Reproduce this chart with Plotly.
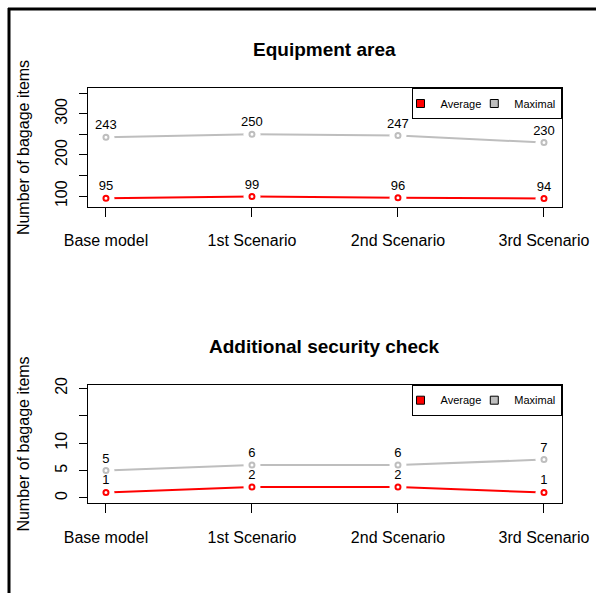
import plotly.graph_objects as go

categories = ["Base model", "1st Scenario", "2nd Scenario", "3rd Scenario"]
x_pos = [1, 2, 3, 4]

equip_average = [95, 99, 96, 94]
equip_maximal = [243, 250, 247, 230]

security_average = [1, 2, 2, 1]
security_maximal = [5, 6, 6, 7]

titles = ["Equipment area", "Additional security check"]
y_title = "Number of bagage items"

y1_ticks = [100, 150, 200, 250, 300, 350]
y1_ticktext = ["100", "", "200", "", "300", ""]
y2_ticks = [0, 5, 10, 15, 20]
y2_ticktext = ["0", "5", "10", "", "20"]

RED = "#FF0000"
GREY = "#BEBEBE"
FONT = "Liberation Sans, Arial, sans-serif"

W, H = 596, 593

def px_x(p):
    return p / W

def px_y(p):
    return 1 - p / H

fig = go.Figure()

def add_series(xa, ya, vals, color):
    # line
    fig.add_trace(go.Scatter(x=x_pos, y=vals, mode="lines", line=dict(color=color, width=2),
                             xaxis=xa, yaxis=ya, showlegend=False, hoverinfo="skip"))
    # white gap around points (type = "b")
    fig.add_trace(go.Scatter(x=x_pos, y=vals, mode="markers",
                             marker=dict(color="white", size=17, line=dict(width=0)),
                             xaxis=xa, yaxis=ya, showlegend=False, hoverinfo="skip"))
    # open circle
    fig.add_trace(go.Scatter(x=x_pos, y=vals, mode="markers",
                             marker=dict(symbol="circle-open", color=color, size=5, line=dict(width=2, color=color)),
                             xaxis=xa, yaxis=ya, showlegend=False, hoverinfo="skip"))

def add_labels(xa, ya, vals):
    fig.add_trace(go.Scatter(x=x_pos, y=vals, mode="markers+text", text=[str(v) for v in vals],
                             textposition="top center",
                             marker=dict(size=6, color="rgba(0,0,0,0)"),
                             textfont=dict(family=FONT, size=13, color="black"),
                             xaxis=xa, yaxis=ya, showlegend=False, hoverinfo="skip"))

add_series("x", "y", equip_average, RED)
add_series("x", "y", equip_maximal, GREY)
add_labels("x", "y", equip_average)
add_labels("x", "y", equip_maximal)

add_series("x2", "y2", security_average, RED)
add_series("x2", "y2", security_maximal, GREY)
add_labels("x2", "y2", security_average)
add_labels("x2", "y2", security_maximal)

# legend entries
for lg in ["legend", "legend2"]:
    for name, col in [("Average", RED), ("Maximal", GREY)]:
        fig.add_trace(go.Scatter(x=[None], y=[None], mode="markers", name=name,
                                 marker=dict(symbol="square", size=8, color=col, line=dict(color="black", width=1)),
                                 legend=lg, showlegend=True,
                                 xaxis="x" if lg == "legend" else "x2",
                                 yaxis="y" if lg == "legend" else "y2"))

x_dom = [px_x(88), px_x(561.5)]
y1_dom = [px_y(207), px_y(88)]
y2_dom = [px_y(503.3), px_y(384.7)]

xaxis_common = dict(range=[0.877, 4.12], tickvals=x_pos, ticktext=categories,
                    ticks="outside", ticklen=9, tickwidth=1, tickcolor="black",
                    showline=True, mirror=True, linecolor="black", linewidth=1,
                    showgrid=False, zeroline=False, domain=x_dom,
                    tickfont=dict(family=FONT, size=16, color="black"),
                    ticklabelstandoff=10, automargin=False, fixedrange=True)

yaxis_common = dict(ticks="outside", ticklen=8, tickwidth=1, tickcolor="black",
                    showline=True, mirror=True, linecolor="black", linewidth=1,
                    showgrid=False, zeroline=False, tickangle=-90,
                    tickfont=dict(family=FONT, size=16, color="black"),
                    ticklabelstandoff=6, automargin=False, fixedrange=True,
                    title=dict(text=y_title, font=dict(family=FONT, size=16, color="black"), standoff=18))

legend_common = dict(orientation="h", xanchor="right", yanchor="top",
                     bordercolor="black", borderwidth=1, bgcolor="white",
                     font=dict(family=FONT, size=11, color="black"), itemwidth=30,
                     indentation=-12)

fig.update_layout(
    width=W, height=H,
    margin=dict(l=0, r=0, t=0, b=0),
    paper_bgcolor="white", plot_bgcolor="white",
    font=dict(family=FONT, color="black"),
    xaxis=dict(**xaxis_common, anchor="y"),
    xaxis2=dict(**xaxis_common, anchor="y2"),
    yaxis=dict(**yaxis_common, domain=y1_dom, range=[73.5, 362.5], tickvals=y1_ticks, ticktext=y1_ticktext, anchor="x"),
    yaxis2=dict(**yaxis_common, domain=y2_dom, range=[-0.97, 20.66], tickvals=y2_ticks, ticktext=y2_ticktext, anchor="x2"),
    legend=dict(**legend_common, x=x_dom[1], y=y1_dom[1]),
    legend2=dict(**legend_common, x=x_dom[1], y=y2_dom[1]),
    annotations=[
        dict(text="<b>%s</b>" % titles[0], x=(x_dom[0] + x_dom[1]) / 2, y=px_y(50), xref="paper", yref="paper",
             showarrow=False, xanchor="center", yanchor="middle", font=dict(family=FONT, size=19, color="black")),
        dict(text="<b>%s</b>" % titles[1], x=(x_dom[0] + x_dom[1]) / 2, y=px_y(346.5), xref="paper", yref="paper",
             showarrow=False, xanchor="center", yanchor="middle", font=dict(family=FONT, size=19, color="black")),
    ],
    shapes=[
        dict(type="line", xref="paper", yref="paper", x0=px_x(8), x1=1, y0=px_y(9), y1=px_y(9),
             line=dict(color="black", width=3)),
        dict(type="line", xref="paper", yref="paper", x0=px_x(9), x1=px_x(9), y0=px_y(8), y1=0,
             line=dict(color="black", width=3)),
    ],
)

fig.write_html("out.html", config={"displayModeBar": False},
               post_script="document.body.style.margin='0px';")
